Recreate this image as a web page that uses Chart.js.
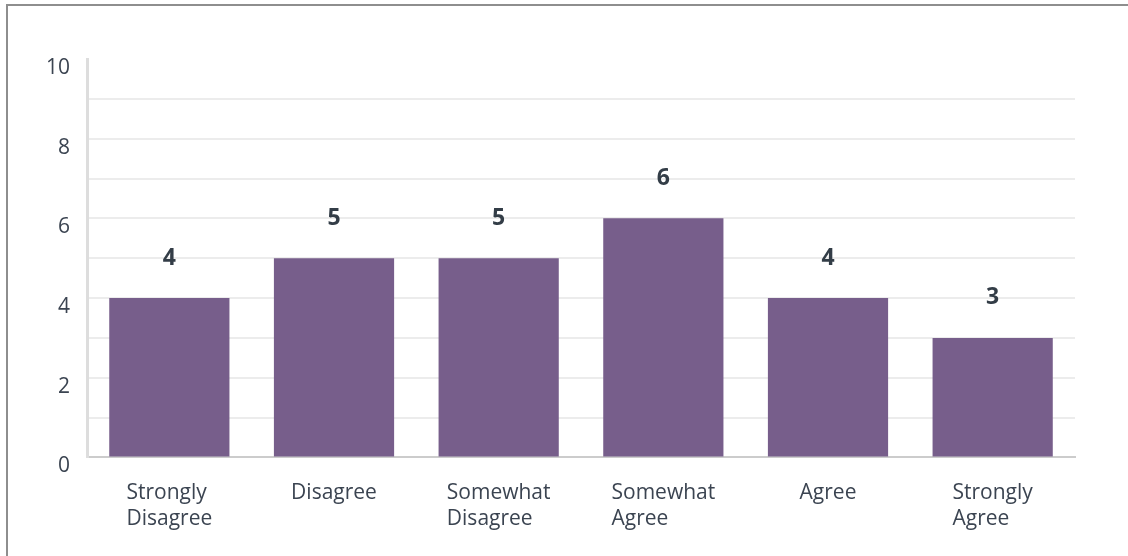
<!DOCTYPE html>
<html>
<head>
<meta charset="utf-8">
<script src="https://cdn.jsdelivr.net/npm/chart.js@4.4.1/dist/chart.umd.min.js"></script>
<style>
  html, body { margin: 0; padding: 0; background: #fff; overflow: hidden; }
  #frame { position: absolute; left: 6px; top: 4px; width: 1140px; height: 600px; border: 2px solid #8e8e8e; }
  #wrap { position: absolute; left: 0; top: 0; width: 1128px; height: 556px; }
</style>
</head>
<body>
<div id="frame"></div>
<div id="wrap"><canvas id="chart"></canvas></div>
<script>
// Survey answers per category
const categories = [
    ['Strongly', 'Disagree'],
    ['Disagree'],
    ['Somewhat', 'Disagree'],
    ['Somewhat', 'Agree'],
    ['Agree'],
    ['Strongly', 'Agree']
];
const counts = [4, 5, 5, 6, 4, 3];
const yTicks = [0, 2, 4, 6, 8, 10];

const textColor = '#3b4451';
const fontFamily = "'Open Sans', 'Noto Sans', sans-serif";

// Bold value above each bar
const valueLabels = {
    id: 'valueLabels',
    afterDatasetsDraw(chart) {
        const ctx = chart.ctx;
        const meta = chart.getDatasetMeta(0);
        ctx.save();
        ctx.font = 'bold 23px ' + fontFamily;
        ctx.fillStyle = '#333d47';
        ctx.textAlign = 'center';
        ctx.textBaseline = 'middle';
        meta.data.forEach(function(bar, i) {
            ctx.fillText(String(counts[i]), bar.x, bar.y - 40);
        });
        ctx.restore();
    }
};

// x labels: block centred on the bar, lines left-aligned
const xLabels = {
    id: 'xLabels',
    afterDraw(chart) {
        const ctx = chart.ctx;
        const xScale = chart.scales.x;
        ctx.save();
        ctx.font = '21px ' + fontFamily;
        ctx.fillStyle = textColor;
        ctx.textAlign = 'left';
        ctx.textBaseline = 'middle';
        categories.forEach(function(lines, i) {
            const cx = xScale.getPixelForValue(i);
            const w = Math.max.apply(null, lines.map(function(l) { return ctx.measureText(l).width; }));
            lines.forEach(function(l, j) {
                ctx.fillText(l, cx - w / 2, xScale.top + 36 + j * 26);
            });
        });
        ctx.restore();
    }
};

document.addEventListener('DOMContentLoaded', function() {
    const ctx = document.getElementById('chart');
    new Chart(ctx.getContext('2d'), {
        type: 'bar',
        data: {
            labels: categories,
            datasets: [{
                data: counts,
                backgroundColor: '#775e8b',
                categoryPercentage: 1,
                barPercentage: 0.73
            }]
        },
        options: {
            responsive: true,
            maintainAspectRatio: false,
            animation: false,
            layout: {
                padding: { left: 29, right: 53, top: 59, bottom: 19 }
            },
            plugins: {
                legend: { display: false },
                tooltip: { enabled: false }
            },
            scales: {
                x: {
                    grid: { display: false },
                    border: { color: '#cccccc', width: 2 },
                    ticks: {
                        color: 'transparent',
                        font: { size: 19, family: fontFamily },
                        padding: 13
                    }
                },
                y: {
                    min: 0,
                    max: 10,
                    border: { color: '#dddddd', width: 3 },
                    grid: {
                        color: function(c) { return c.tick && c.tick.value === 10 ? 'transparent' : '#ececec'; },
                        lineWidth: 2,
                        drawTicks: false
                    },
                    ticks: {
                        stepSize: 1,
                        padding: 17,
                        labelOffset: 9,
                        color: textColor,
                        font: { size: 21, family: fontFamily },
                        callback: function(v) { return yTicks.includes(v) ? String(v) : ''; }
                    }
                }
            }
        },
        plugins: [valueLabels, xLabels]
    });
});
</script>
</body>
</html>
